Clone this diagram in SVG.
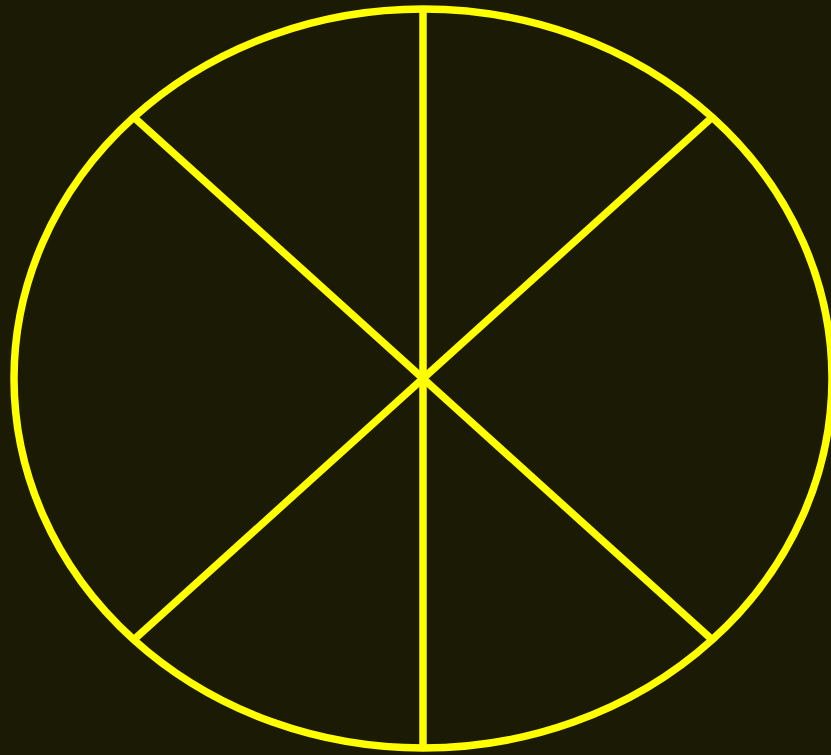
<svg xmlns="http://www.w3.org/2000/svg" width="831" height="755" viewBox="0 0 831 755">
<style>
.s{fill:none;stroke:#ffff00;stroke-width:7.5}
</style>
<rect width="831" height="755" fill="#1b1a04"/>
<g id="wheel">
<ellipse class="s" cx="423" cy="378.5" rx="409" ry="369.5"/>
<line class="s" x1="423" y1="9" x2="423" y2="748"/>
<line class="s" x1="133.8" y1="117.2" x2="712.2" y2="639.8"/>
<line class="s" x1="712.2" y1="117.2" x2="133.8" y2="639.8"/>
</g>
</svg>
